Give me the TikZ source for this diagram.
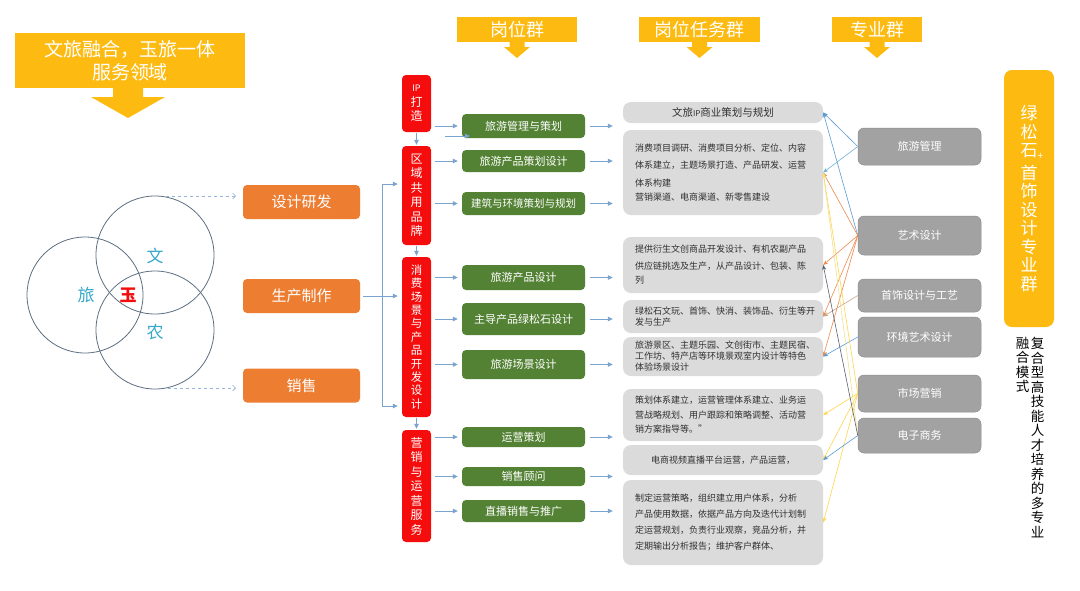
\documentclass[tikz,border=0pt]{standalone}
\usepackage{fontspec}
\setmainfont{Noto Sans CJK SC}
\usetikzlibrary{arrows.meta}
\definecolor{cyellow}{HTML}{FDBB12}
\definecolor{corange}{HTML}{ED7D31}
\definecolor{cred}{HTML}{F50D0D}
\definecolor{cgreen}{HTML}{548235}
\definecolor{cgray}{HTML}{DBDBDB}
\definecolor{cmajor}{HTML}{A2A2A2}
\definecolor{cmajorb}{HTML}{8E8E8E}
\definecolor{ctext}{HTML}{303030}
\definecolor{cflow}{HTML}{7BA3CF}
\definecolor{cvenn}{HTML}{5D6F82}
\definecolor{cvtext}{HTML}{36A8C8}
\definecolor{lblue}{HTML}{5B9BD5}
\definecolor{lteal}{HTML}{6FB0D2}
\definecolor{lorange}{HTML}{EE8A4A}
\definecolor{lbrown}{HTML}{C9A589}
\definecolor{lyellow}{HTML}{FFD54A}
\definecolor{lpale}{HTML}{F2E08E}
\definecolor{ldark}{HTML}{5A6070}
\tikzset{
  hdrbox/.style={fill=cyellow, text=white, inner sep=0pt, font=\fontsize{18}{20}\selectfont},
  orbox/.style={fill=corange, rounded corners=4pt, text=white, inner sep=0pt,
    minimum width=117pt, minimum height=34pt, font=\fontsize{15}{17}\selectfont},
  redbox/.style={fill=cred, rounded corners=4pt, text=white, inner sep=0pt, align=center,
    minimum width=29pt, font=\fontsize{12}{14.5}\selectfont},
  grbox/.style={fill=cgreen, rounded corners=4pt, text=white, inner sep=0pt,
    minimum width=123pt, font=\fontsize{11}{13}\selectfont},
  taskbox/.style={fill=cgray, rounded corners=8pt, text=ctext, inner ysep=0pt, inner xsep=12pt,
    minimum width=200pt, text width=176pt, align=left},
  majbox/.style={fill=cmajor, draw=cmajorb, line width=0.5pt, rounded corners=6pt, text=white,
    inner sep=0pt, minimum width=123pt, font=\fontsize{11}{13}\selectfont},
  flow/.style={draw=cflow, line width=0.8pt, -{Triangle[length=5pt,width=4.5pt]}},
  flowline/.style={draw=cflow, line width=0.8pt},
  dasharrow/.style={draw=cflow!80, line width=0.6pt, dashed, -{Straight Barb[length=3pt,width=6pt]}},
  link/.style={line width=0.6pt, -{Stealth[length=5pt,width=4pt]}},
  vtext/.style={text=cvtext, font=\fontsize{17}{19}\selectfont}
}
\begin{document}
\begin{tikzpicture}[x=1pt,y=-1pt]
\useasboundingbox (0,0) rectangle (1080,590);
\fill[white] (0,0) rectangle (1080,590);

% title
\node[hdrbox, minimum width=230pt, minimum height=55pt, align=center,
  font=\fontsize{19}{23}\selectfont] (title) at (130,60.5) {文旅融合，玉旅一体\\服务领域};
\fill[cyellow] (113,88) -- (143,88) -- (143,97) -- (165,97) -- (128,118) -- (91,97) -- (113,97) -- cycle;

% headers
\node[hdrbox, minimum width=120pt, minimum height=25pt] (h1) at (517,29.5) {岗位群};
\node[hdrbox, minimum width=121pt, minimum height=25pt] (h2) at (699.5,29.5) {岗位任务群};
\node[hdrbox, minimum width=90pt, minimum height=25pt] (h3) at (877,29.5) {专业群};
\foreach \cx in {517,699.5,877}{
  \fill[cyellow] (\cx-7.5,42) -- (\cx+7.5,42) -- (\cx+7.5,47) -- (\cx+13,47) -- (\cx,58) -- (\cx-13,47) -- (\cx-7.5,47) -- cycle;
}

% Venn
\draw[cvenn, line width=0.8pt] (155,255) circle (59);
\draw[cvenn, line width=0.8pt] (85,295) circle (58);
\draw[cvenn, line width=0.8pt] (155,330) circle (59);
\node[vtext] (vw) at (155,256) {文};
\node[vtext] (vl) at (86,295) {旅};
\node[text=cred, font=\fontsize{17}{19}\selectfont\bfseries] (vy) at (128,295) {玉};
\node[vtext] (vn) at (155,332) {农};

% orange boxes
\node[orbox] (o1) at (301.5,202) {设计研发};
\node[orbox] (o2) at (301.5,296) {生产制作};
\node[orbox] (o3) at (301.5,385.5) {销售};
\coordinate (d1s) at (166,196);
\coordinate (d1e) at (236,196);
\coordinate (d2s) at (168,388);
\coordinate (d2e) at (236,388);
\draw[dasharrow] (d1s) -- (d1e);
\draw[dasharrow] (d2s) -- (d2e);

% red boxes
\node[redbox, minimum height=57pt] (r1) at (416.5,103.5) {{\fontsize{9}{11}\selectfont IP}\\打\\造};
\node[redbox, minimum height=99pt] (r2) at (416.5,195.5) {区\\域\\共\\用\\品\\牌};
\node[redbox, minimum height=160pt, font=\fontsize{11.5}{13.4}\selectfont] (r3) at (416.5,337) {消\\费\\场\\景\\与\\产\\品\\开\\发\\设\\计};
\node[redbox, minimum height=112pt] (r4) at (416.5,486) {营\\销\\与\\运\\营\\服\\务};
\draw[flow, shorten <=1pt, shorten >=1pt] (r1.south) -- (r2.north);
\draw[flow, shorten <=1pt, shorten >=1pt] (r2.south) -- (r3.north);
\draw[flow, shorten <=1pt, shorten >=1pt] (r3.south) -- (r4.north);

% bracket
\coordinate (bk1) at (382,184);
\coordinate (bk2) at (382,406);
\draw[flowline] (bk1) -- (bk2);
\draw[flow, shorten >=4pt] (bk1) -- (r2.west |- bk1);
\draw[flow, shorten >=4pt] (bk2) -- (r3.west |- bk2);
\draw[flow, shorten <=3pt, shorten >=4pt] (o2.east) -- (r3.west |- o2.east);

% green boxes
\node[grbox, minimum height=24pt] (g1) at (523.5,126) {旅游管理与策划};
\node[grbox, minimum height=22pt] (g2) at (523.5,161) {旅游产品策划设计};
\node[grbox, minimum height=23pt, font=\fontsize{10.5}{12}\selectfont] (g3) at (523.5,203.5) {建筑与环境策划与规划};
\node[grbox, minimum height=25pt] (g4) at (523.5,277.5) {旅游产品设计};
\node[grbox, minimum height=32pt] (g5) at (523.5,319) {主导产品绿松石设计};
\node[grbox, minimum height=29pt] (g6) at (523.5,364.5) {旅游场景设计};
\node[grbox, minimum height=20pt] (g7) at (523.5,437) {运营策划};
\node[grbox, minimum height=19pt] (g8) at (523.5,476.5) {销售顾问};
\node[grbox, minimum height=22pt] (g9) at (523.5,511) {直播销售与推广};

\draw[flow, shorten <=4pt, shorten >=4pt] (r1.east |- g1.west) -- (g1.west);
\draw[flow, shorten <=4pt, shorten >=4pt] (r2.east |- g2.west) -- (g2.west);
\draw[flow, shorten <=4pt, shorten >=4pt] (r2.east |- g3.west) -- (g3.west);
\draw[flow, shorten <=4pt, shorten >=4pt] (r3.east |- g4.west) -- (g4.west);
\draw[flow, shorten <=4pt, shorten >=4pt] (r3.east |- g5.west) -- (g5.west);
\draw[flow, shorten <=4pt, shorten >=4pt] (r3.east |- g6.west) -- (g6.west);
\draw[flow, shorten <=4pt, shorten >=4pt] (r4.east |- g7.west) -- (g7.west);
\draw[flow, shorten <=4pt, shorten >=4pt] (r4.east |- g8.west) -- (g8.west);
\draw[flow, shorten <=4pt, shorten >=4pt] (r4.east |- g9.west) -- (g9.west);
\coordinate (ex1) at (445,136);
\coordinate (ex2) at (470,136);
\draw[flow] (ex1) -- (ex2);

% task boxes
\node[taskbox, minimum height=21pt, align=center, font=\fontsize{10.5}{12}\selectfont] (tA) at (723,112.5) {文旅{\fontsize{8}{10}\selectfont IP}商业策划与规划};
\node[taskbox, minimum height=85pt, font=\fontsize{9}{17.5}\selectfont] (tB) at (723,172.5) {消费项目调研、消费项目分析、定位、内容\\体系建立，主题场景打造、产品研发、运营\\体系构建\\[-3pt]营销渠道、电商渠道、新零售建设};
\node[taskbox, minimum height=56pt, font=\fontsize{9}{17}\selectfont] (tC) at (723,265) {提供衍生文创商品开发设计、有机农副产品\\供应链挑选及生产，从产品设计、包装、陈\\[-3pt]列};
\node[taskbox, minimum height=33pt, font=\fontsize{9}{11}\selectfont] (tD) at (723,316.5) {绿松石文玩、首饰、快消、装饰品、衍生等开\\发与生产};
\node[taskbox, minimum height=39pt, font=\fontsize{9}{11}\selectfont] (tE) at (723,356.5) {旅游景区、主题乐园、文创街市、主题民宿、\\工作坊、特产店等环境景观室内设计等特色\\体验场景设计};
\node[taskbox, minimum height=52pt, font=\fontsize{9}{14.5}\selectfont] (tF) at (723,415) {策划体系建立，运营管理体系建立、业务运\\营战略规划、用户跟踪和策略调整、活动营\\销方案指导等。”};
\node[taskbox, minimum height=30pt, align=center, font=\fontsize{9}{11}\selectfont] (tG) at (723,460) {电商视频直播平台运营，产品运营，};
\node[taskbox, minimum height=85pt, font=\fontsize{9}{16}\selectfont] (tH) at (723,522.5) {制定运营策略，组织建立用户体系，分析\\产品使用数据，依据产品方向及迭代计划制\\定运营规划，负责行业观察，竞品分析，并\\定期输出分析报告；维护客户群体、};

\foreach \g/\t in {g1/tA,g2/tB,g3/tB,g4/tC,g5/tD,g6/tE,g7/tF,g8/tG,g9/tH}{
  \draw[flow, shorten <=5pt, shorten >=10pt] (\g.east) -- (\g.east -| \t.west);
}

% major boxes
\node[majbox, minimum height=37pt] (m1) at (919.5,146.5) {旅游管理};
\node[majbox, minimum height=39pt] (m2) at (919.5,235.5) {艺术设计};
\node[majbox, minimum height=33pt] (m3) at (919.5,295.5) {首饰设计与工艺};
\node[majbox, minimum height=40pt] (m4) at (919.5,337) {环境艺术设计};
\node[majbox, minimum height=37pt] (m5) at (919.5,393.5) {市场营销};
\node[majbox, minimum height=35pt] (m6) at (919.5,435.5) {电子商务};

% links
\draw[link, lblue] (m1.west) -- (tA.east);
\draw[link, lteal] (m1.west) -- (tB.east);
\draw[link, lblue] (m2.west) -- (tA.east);
\draw[link, lorange] (m2.west) -- (tB.east);
\draw[link, lorange] (m2.west) -- (tC.east);
\draw[link, lorange] (m2.west) -- (tD.east);
\draw[link, lorange] (m2.west) -- (tE.east);
\draw[link, lbrown] (m3.west) -- (tD.east);
\draw[link, lblue] (m4.west) -- (tE.east);
\draw[link, lyellow] (m5.west) -- (tB.east);
\draw[link, lyellow] (m5.west) -- (tF.east);
\draw[link, lyellow] (m5.west) -- (tG.east);
\draw[link, lyellow] (m5.west) -- (tH.east);
\draw[link, lpale] (m6.west) -- (tB.east);
\draw[link, ldark] (m6.west) -- (tC.east);
\draw[link, lblue] (m6.west) -- (tG.east);

% right side
\node[fill=cyellow, rounded corners=8pt, minimum width=50pt, minimum height=257pt, inner sep=0pt,
  text=white, align=center, font=\fontsize{17}{18.5}\selectfont] (side) at (1029,198.5)
  {绿\\松\\石\rlap{\raisebox{-3pt}{\fontsize{10}{10}\selectfont +}}\\[4pt]首\\饰\\设\\计\\专\\业\\群};
\node[anchor=north, align=center, inner sep=0pt, text=black, font=\fontsize{13.5}{14.5}\selectfont] (mode1) at (1037.5,337)
  {复\\合\\型\\高\\技\\能\\人\\才\\培\\养\\的\\多\\专\\业};
\node[anchor=north, align=center, inner sep=0pt, text=black, font=\fontsize{13.5}{14.5}\selectfont] (mode2) at (1022.5,337)
  {融\\合\\模\\式};
\end{tikzpicture}
\end{document}
